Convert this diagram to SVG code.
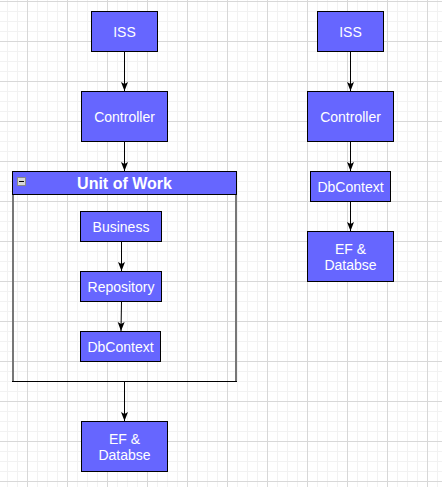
<svg xmlns="http://www.w3.org/2000/svg" width="442" height="487" viewBox="0 0 442 487">
<style>
.node{fill:#6666ff;stroke:#000;stroke-width:1}
.lbl{fill:#fff;font-family:"Liberation Sans",Arial,sans-serif;font-size:14px;text-anchor:middle}
.title{fill:#fff;font-family:"Liberation Sans",Arial,sans-serif;font-size:16px;font-weight:bold;text-anchor:middle}
.edge{stroke:#000;stroke-width:1;fill:none;marker-end:url(#arr)}
</style>
<defs>
<pattern id="grid" x="27" y="1" width="40" height="40" patternUnits="userSpaceOnUse">
<path d="M10.5 0V40M20.5 0V40M30.5 0V40M0 10.5H40M0 20.5H40M0 30.5H40" stroke="#f2f2f2" stroke-width="1"/>
<path d="M0.5 0V40M0 0.5H40" stroke="#d8d8d8" stroke-width="1"/>
</pattern>
<marker id="arr" markerUnits="userSpaceOnUse" markerWidth="9" markerHeight="8" viewBox="0 0 9 8" refX="9" refY="4" orient="auto">
<path d="M0 0.5 L9 4 L0 7.5 L2 4 Z" fill="#000"/>
</marker>
</defs>
<rect width="442" height="487" fill="#fff"/>
<rect width="442" height="487" fill="url(#grid)"/>

<g id="connectors">
<path class="edge" d="M124.5 51.5V91"/>
<path class="edge" d="M124.5 141.5V171"/>
<path class="edge" d="M121.5 241.5V271"/>
<path class="edge" d="M121.5 301.5L121 331"/>
<path class="edge" d="M124.5 381.5V421"/>
<path class="edge" d="M350.5 51.5V91"/>
<path class="edge" d="M350.5 141.5V171"/>
<path class="edge" d="M350.5 201.5V231"/>
</g>

<g id="unit-of-work">
<line x1="13" y1="194" x2="13" y2="381.5" stroke="#777" stroke-width="2"/>
<line x1="236" y1="194" x2="236" y2="381.5" stroke="#777" stroke-width="2"/>
<line x1="12" y1="381.5" x2="237" y2="381.5" stroke="#000" stroke-width="1"/>
<rect class="node" x="12.5" y="171.5" width="224" height="23"/>
<rect x="17.5" y="177.5" width="8" height="8" fill="#d8d8d8" stroke="#888" stroke-width="1"/>
<line x1="19" y1="181.5" x2="24" y2="181.5" stroke="#000" stroke-width="1"/>
<text class="title" x="124.5" y="189">Unit of Work</text>
</g>

<g id="iss-left">
<rect class="node" x="91.5" y="11.5" width="66" height="40"/>
<text class="lbl" x="124.5" y="36.5">ISS</text>
</g>
<g id="controller-left">
<rect class="node" x="81.5" y="91.5" width="86" height="50"/>
<text class="lbl" x="124.5" y="121.5">Controller</text>
</g>
<g id="business">
<rect class="node" x="80.5" y="211.5" width="81" height="30"/>
<text class="lbl" x="121" y="231.5">Business</text>
</g>
<g id="repository">
<rect class="node" x="80.5" y="271.5" width="81" height="30"/>
<text class="lbl" x="121" y="291.5">Repository</text>
</g>
<g id="dbcontext-left">
<rect class="node" x="80.5" y="331.5" width="80" height="30"/>
<text class="lbl" x="120.5" y="351.5">DbContext</text>
</g>
<g id="ef-left">
<rect class="node" x="81.5" y="421.5" width="86" height="50"/>
<text class="lbl" x="124.5" y="443.5">EF &amp;</text>
<text class="lbl" x="124.5" y="460">Databse</text>
</g>

<g id="iss-right">
<rect class="node" x="317.5" y="11.5" width="66" height="40"/>
<text class="lbl" x="350.5" y="36.5">ISS</text>
</g>
<g id="controller-right">
<rect class="node" x="307.5" y="91.5" width="86" height="50"/>
<text class="lbl" x="350.5" y="121.5">Controller</text>
</g>
<g id="dbcontext-right">
<rect class="node" x="310.5" y="171.5" width="80" height="30"/>
<text class="lbl" x="350.5" y="191.5">DbContext</text>
</g>
<g id="ef-right">
<rect class="node" x="307.5" y="231.5" width="86" height="50"/>
<text class="lbl" x="350.5" y="253.5">EF &amp;</text>
<text class="lbl" x="350.5" y="270">Databse</text>
</g>
</svg>
